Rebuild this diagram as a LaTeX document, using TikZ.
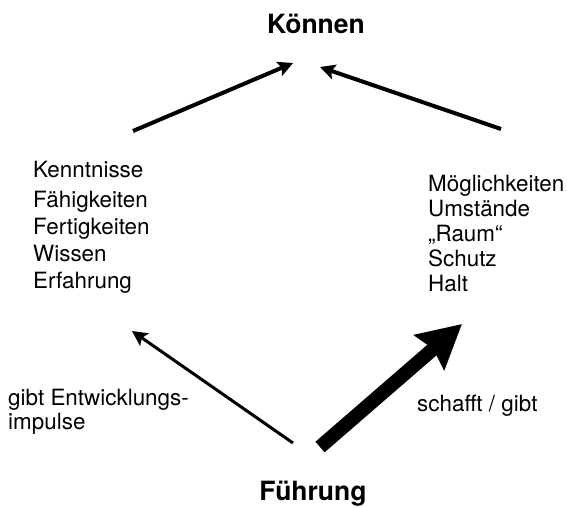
\documentclass[tikz,border=0pt]{standalone}
\usepackage{fontspec}
\setmainfont{TeX Gyre Heros}
\usepackage{tikz}
\usetikzlibrary{arrows.meta}
\tikzset{>/.tip={Stealth[length=15pt, width=15pt, inset=3pt]},
  txt/.style={font=\fontsize{22.4}{27}\selectfont, inner sep=0pt, align=left},
  head/.style={font=\fontsize{26.5}{30}\selectfont\bfseries, inner sep=0pt}}

\begin{document}
\begin{tikzpicture}[x=1pt, y=-1pt]
 \useasboundingbox (0,0) rectangle (567,507);

 \node[head, anchor=base] (k) at (316, 33) {Können};
 \node[head, anchor=base] (f) at (313, 500) {Führung};

 \node[txt, anchor=north west] (l) at (33, 161) {Kenntnisse\\[3pt] Fähigkeiten\\ Fertigkeiten\\ Wissen\\ Erfahrung};
 \node[txt, anchor=north west, font=\fontsize{22.4}{25}\selectfont] (r) at (428, 175) {Möglichkeiten\\ Umstände\\ „Raum“\\ Schutz\\ Halt};

 \node[txt, anchor=north west, font=\fontsize{22.4}{24}\selectfont] (gi) at (8, 389) {gibt Entwicklungs-\\ impulse};
 \node[txt, anchor=north west] (sg) at (417, 395) {schafft / gibt};

 % arrow ends
 \coordinate (l1) at (133, 131);
 \coordinate (k1) at (293, 63);
 \coordinate (r1) at (501, 129);
 \coordinate (k2) at (320, 67);
 \coordinate (f1) at (293, 443);
 \coordinate (l2) at (132, 331);
 \coordinate (f2) at (320, 447);
 \coordinate (r2) at (462, 324);

 \path[->, line width=4pt] (l1) edge (k1);
 \path[->, line width=4pt] (r1) edge (k2);
 \path[->, line width=3pt] (f1) edge (l2);
 \path[-{Stealth[length=43pt, width=45pt, inset=5pt]}, line width=14pt] (f2) edge (r2);
\end{tikzpicture}
\end{document}
